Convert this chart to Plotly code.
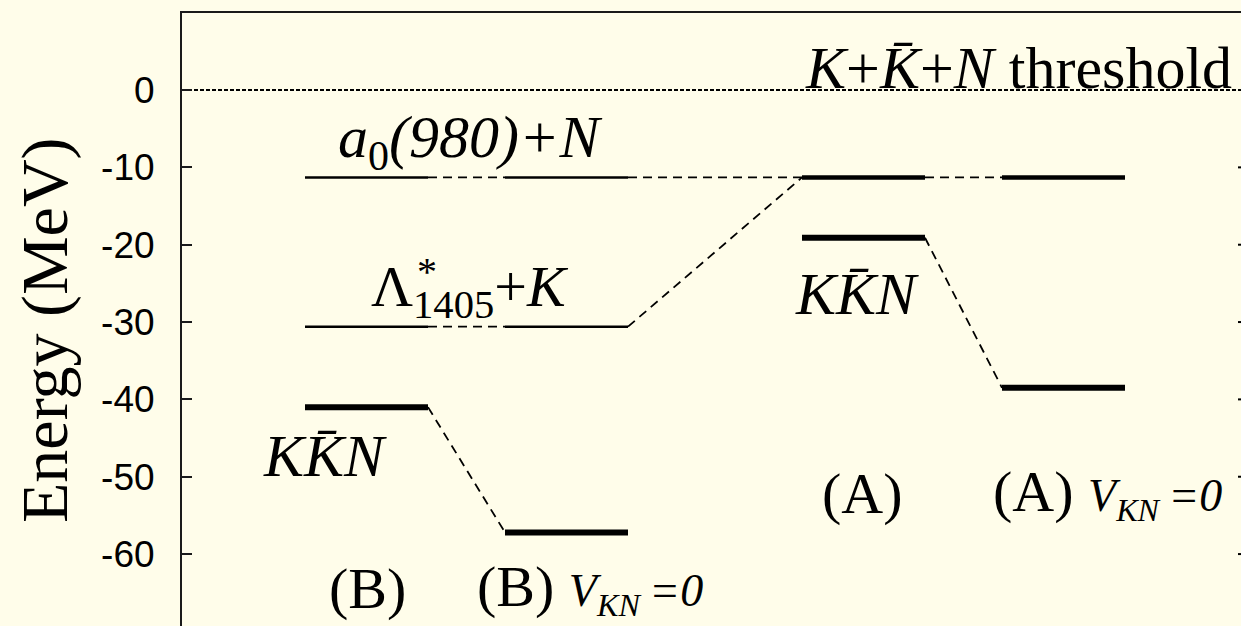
import plotly.graph_objects as go

# Energy levels (MeV) of the K K̄ N system, four columns
columns = ["(B)", "(B) V=0", "(A)", "(A) V=0"]
col_x = [1.0, 2.0, 3.485, 4.485]
half_w = 0.3075

threshold = 0.0
a0_level = [-11.3, -11.3, -11.3, -11.3]
lambda_level = [-30.6, -30.6]            # only in the (B) columns
kkn_level = [-41.0, -57.2, -19.1, -38.5]

y_ticks = [0, -10, -20, -30, -40, -50, -60]
y_tick_text = ["0", "-10", "-20", "-30", "-40", "-50", "-60"]

X_RANGE = [0.0775, 5.3725]
Y_RANGE = [-69.3, 9.96]

BG = "#FFFDEA"
INK = "#000000"
SERIF = "Liberation Serif"
SANS = "Liberation Sans"

fig = go.Figure()


def left(i):
    return col_x[i] - half_w


def right(i):
    return col_x[i] + half_w


def connector(i, vi, j, vj):
    fig.add_trace(go.Scatter(
        x=[right(i), left(j)], y=[vi, vj], mode="lines",
        line=dict(color=INK, width=1.8, dash="9px,6px"),
        hoverinfo="skip", showlegend=False))


def level(i, v, width):
    fig.add_trace(go.Scatter(
        x=[left(i), right(i)], y=[v, v], mode="lines",
        line=dict(color=INK, width=width),
        hoverinfo="skip", showlegend=False))


# threshold line
fig.add_trace(go.Scatter(
    x=[X_RANGE[0], 5.355], y=[threshold, threshold], mode="lines",
    line=dict(color=INK, width=2, dash="4px,2px"),
    hoverinfo="skip", showlegend=False))

# dashed connectors between columns
for i in range(3):
    connector(i, a0_level[i], i + 1, a0_level[i + 1])
connector(0, lambda_level[0], 1, lambda_level[1])
connector(1, lambda_level[1], 2, a0_level[2])
connector(0, kkn_level[0], 1, kkn_level[1])
connector(2, kkn_level[2], 3, kkn_level[3])

# levels
for i in range(4):
    level(i, a0_level[i], 2.4 if i < 2 else 4.5)
for i in range(2):
    level(i, lambda_level[i], 2.4)
for i in range(4):
    level(i, kkn_level[i], 6)

KBAR = "K\u0304"
BIG = 58
SMALL = 46


def label(x, y, text, size=BIG, italic=False):
    font = dict(family=SERIF, size=size, color=INK)
    if italic:
        font["style"] = "italic"
    fig.add_annotation(x=x, y=y, xref="x", yref="y", text=text,
                       showarrow=False, xanchor="center", yanchor="middle",
                       font=font)


label(4.26, 2.85, f"<i>K</i>+<i>{KBAR}</i>+<i>N</i> threshold", size=60)
label(1.5175, -6.6, "a<span style='font-style:normal'><sub>0</sub></span>(980)+N",
      size=60, italic=True)
label(1.5175, -25.9, "Λ<sub>1405</sub>+<i>K</i>")
fig.add_annotation(x=1.3, y=-23.4, xref="x", yref="y", text="*",
                   showarrow=False, font=dict(family=SERIF, size=40, color=INK))
label(0.7925, -47.3, f"K{KBAR}N", size=60, italic=True)
label(3.4525, -26.4, f"K{KBAR}N", size=60, italic=True)
label(1.005, -64.4, "(B)")
label(3.4775, -52.2, "(A)")
vkn = (f"<span style='font-size:{SMALL}px'><i>V</i><sub><i>KN</i></sub>"
       f"<i>\u2009=0</i></span>")
label(2.1175, -64.4, "(B) " + vkn)
label(4.7025, -52.2, "(A) " + vkn)

# y-axis title
fig.add_annotation(x=-0.1294, y=0.4829, xref="paper", yref="paper",
                   text="Energy (MeV)", textangle=-90, showarrow=False,
                   xanchor="center", yanchor="middle",
                   font=dict(family=SERIF, size=66, color=INK))

# mirrored ticks on the right edge
for v in y_ticks:
    fig.add_shape(type="line", xref="paper", yref="y",
                  x0=1 - 3 / 1059, x1=1.0, y0=v, y1=v,
                  line=dict(color=INK, width=2))

fig.update_layout(
    width=1241, height=626,
    margin=dict(l=182, r=0, t=13, b=0),
    paper_bgcolor=BG, plot_bgcolor=BG,
    showlegend=False,
    xaxis=dict(range=X_RANGE, side="top", showline=True, linewidth=2,
               linecolor="#1a1a1a", showticklabels=False, ticks="",
               showgrid=False, zeroline=False, fixedrange=True),
    yaxis=dict(range=Y_RANGE, showline=True, linewidth=2, linecolor="#1a1a1a",
               ticks="inside", ticklen=10, tickwidth=2, tickcolor="#1a1a1a",
               tickvals=y_ticks, ticktext=y_tick_text,
               tickfont=dict(family=SANS, size=37, color=INK),
               ticklabelstandoff=18,
               showgrid=False, zeroline=False, fixedrange=True),
)

fig.write_html("out.html")
